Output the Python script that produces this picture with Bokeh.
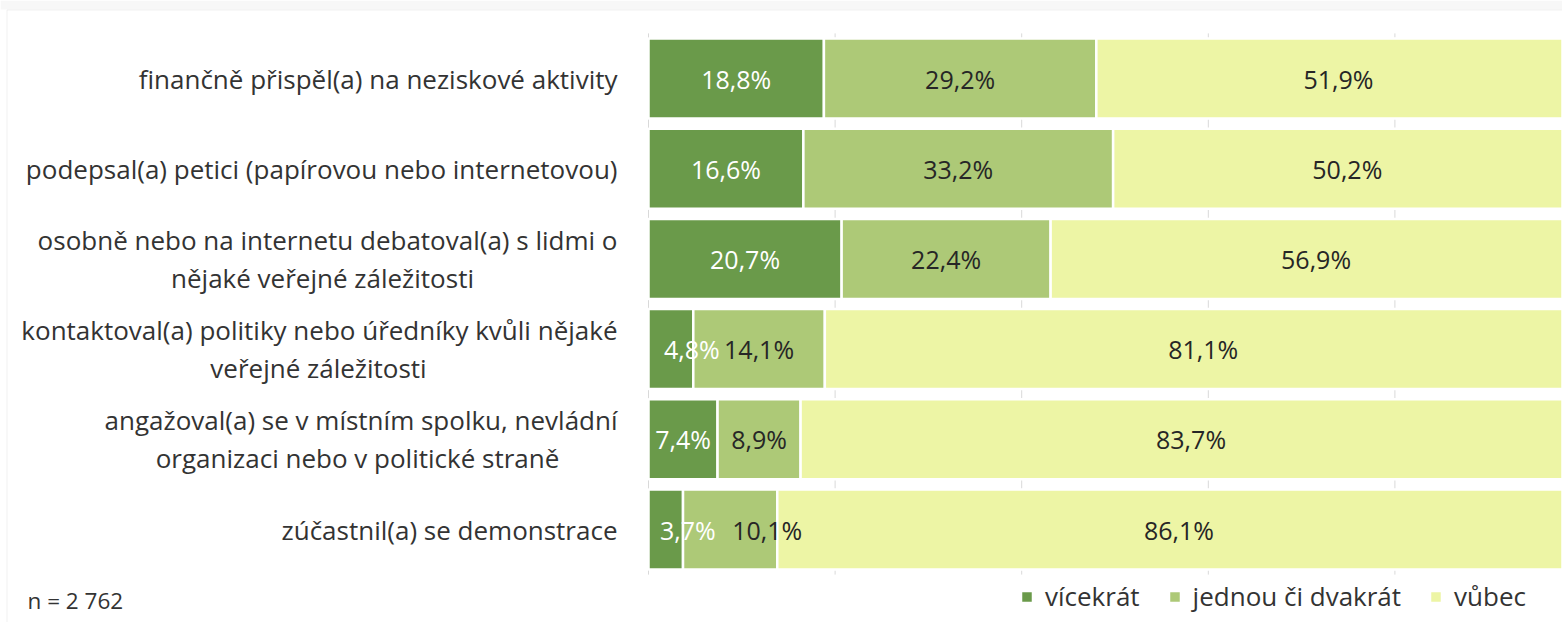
from bokeh.plotting import figure
from bokeh.models import (ColumnDataSource, Label, Range1d, BoxAnnotation)
from bokeh.embed import file_html
from bokeh.resources import INLINE
from bokeh.core.properties import value

# ---------------- data ----------------
categories = [
    "finančně přispěl(a) na neziskové aktivity",
    "podepsal(a) petici (papírovou nebo internetovou)",
    "osobně nebo na internetu debatoval(a) s lidmi o nějaké veřejné záležitosti",
    "kontaktoval(a) politiky nebo úředníky kvůli nějaké veřejné záležitosti",
    "angažoval(a) se v místním spolku, nevládní organizaci nebo v politické straně",
    "zúčastnil(a) se demonstrace",
]
category_lines = [
    ["finančně přispěl(a) na neziskové aktivity"],
    ["podepsal(a) petici (papírovou nebo internetovou)"],
    ["osobně nebo na internetu debatoval(a) s lidmi o", "nějaké veřejné záležitosti"],
    ["kontaktoval(a) politiky nebo úředníky kvůli nějaké", "veřejné záležitosti"],
    ["angažoval(a) se v místním spolku, nevládní", "organizaci nebo v politické straně"],
    ["zúčastnil(a) se demonstrace"],
]
vicekrat = [18.8, 16.6, 20.7, 4.8, 7.4, 3.7]
jednou = [29.2, 33.2, 22.4, 14.1, 8.9, 10.1]
vubec = [51.9, 50.2, 56.9, 81.1, 83.7, 86.1]
series_keys = ["vicekrat", "jednou", "vubec"]
series_names = ["vícekrát", "jednou či dvakrát", "vůbec"]
sample_note = "n = 2 762"
grid_ticks = [0, 20, 40, 60, 80, 100]

# ---------------- styles / layout ----------------
colors = ["#6A9A4A", "#ADC977", "#EDF5A5"]
label_colors = ["#FFFFFF", "#262626", "#262626"]
FONT_NAME = "Open Sans"
FONT = value(FONT_NAME)
TEXT_COLOR = "#333333"
GRID_COLOR = "#D9D9D9"
CAT_SIZE = "26px"
VAL_SIZE = "25px"
label_nudge = {(3, 0): 21, (5, 0): 22, (5, 1): 37}      # px nudges of crowded labels
second_line_center = {2: -326, 3: -330, 4: -291}        # px from axis
CAT_GAP = 31                                            # px between labels and axis
LINE_DY = 19

W, H = 1562, 622
AXIS_PX, FULL_PX = 648, 933          # axis position and px length of 100 %
ROW_PX, TOP_ROW_PX = 90.2, 78        # row pitch and centre of first row
n_rows = len(categories)
bottom_row_px = TOP_ROW_PX + (n_rows - 1) * ROW_PX
x_lo = -AXIS_PX / FULL_PX * 100
x_hi = (W - AXIS_PX) / FULL_PX * 100
y_hi = bottom_row_px / ROW_PX
y_lo = (bottom_row_px - H) / ROW_PX

p = figure(width=W, height=H, x_range=Range1d(x_lo, x_hi), y_range=Range1d(y_lo, y_hi),
           x_axis_location=None, y_axis_location=None,
           output_backend="svg", toolbar_location=None,
           min_border_left=0, min_border_right=0, min_border_top=0, min_border_bottom=0)
p.outline_line_color = None
p.background_fill_color = "white"
p.border_fill_color = "white"
p.xgrid.grid_line_color = None
p.ygrid.grid_line_color = None

rows = [n_rows - 1 - i for i in range(n_rows)]

# chart frame (light box) and faint strip above it
p.add_layout(BoxAnnotation(left=0, right=W, top=H, bottom=H - 9,
                           left_units="screen", right_units="screen",
                           top_units="screen", bottom_units="screen",
                           fill_color="#F7F7F7", fill_alpha=1, line_color=None))
p.add_layout(BoxAnnotation(left=6.5, right=W + 50, top=H - 9.5, bottom=-50,
                           left_units="screen", right_units="screen",
                           top_units="screen", bottom_units="screen",
                           fill_alpha=0, line_color="#D0D0D0", line_width=1))

# vertical grid (only across the bar area)
p.segment(x0=grid_ticks, x1=grid_ticks, y0=[-0.5] * len(grid_ticks),
          y1=[n_rows - 0.5] * len(grid_ticks), line_color=GRID_COLOR, line_width=1)

source = ColumnDataSource(dict(row=rows, cat=categories,
                               vicekrat=vicekrat, jednou=jednou, vubec=vubec))
p.hbar_stack(series_keys, y="row", height=0.887, color=colors,
             line_color="white", line_width=2.5, source=source,
             legend_label=series_names)

# data labels
xs, ys, texts, tcols, dxs = [], [], [], [], []
series = [vicekrat, jednou, vubec]
for i in range(n_rows):
    start = 0.0
    for j, s in enumerate(series):
        v = s[i]
        xs.append(start + v / 2)
        ys.append(rows[i])
        texts.append(f"{v:.1f}%".replace(".", ","))
        tcols.append(label_colors[j])
        dxs.append(label_nudge.get((i, j), 0))
        start += v
p.text(x="x", y="y", text="text", x_offset="dx", text_color="color",
       source=ColumnDataSource(dict(x=xs, y=ys, text=texts, color=tcols, dx=dxs)),
       text_align="center", text_baseline="middle",
       text_font=FONT, text_font_size=VAL_SIZE)

# category labels
r_y, r_t, r_dy = [], [], []
c_y, c_t, c_dx, c_dy = [], [], [], []
for i, lines in enumerate(category_lines):
    if len(lines) == 1:
        r_y.append(rows[i]); r_t.append(lines[0]); r_dy.append(0)
    else:
        r_y.append(rows[i]); r_t.append(lines[0]); r_dy.append(-LINE_DY)
        c_y.append(rows[i]); c_t.append(lines[1]); c_dx.append(second_line_center[i]); c_dy.append(LINE_DY)
p.text(x=[0] * len(r_y), y=r_y, text=r_t, x_offset=-CAT_GAP, y_offset=r_dy,
       text_align="right", text_baseline="middle", text_color=TEXT_COLOR,
       text_font=FONT, text_font_size=CAT_SIZE)
p.text(x=[0] * len(c_y), y=c_y, text=c_t, x_offset=c_dx, y_offset=c_dy,
       text_align="center", text_baseline="middle", text_color=TEXT_COLOR,
       text_font=FONT, text_font_size=CAT_SIZE)

p.add_layout(Label(x=27, y=22, x_units="screen", y_units="screen", text=sample_note,
                   text_baseline="middle", text_color=TEXT_COLOR,
                   text_font=FONT_NAME, text_font_size="22.5px"))

leg = p.legend[0]
leg.orientation = "horizontal"
leg.location = (1019, 8)
leg.padding = 0
leg.margin = 0
leg.spacing = 27
leg.label_standoff = 11
leg.glyph_width = 15
leg.glyph_height = 15
leg.label_text_font = FONT_NAME
leg.label_text_font_size = "26px"
leg.label_text_color = TEXT_COLOR
leg.border_line_color = None
leg.background_fill_alpha = 0

open("out.html", "w").write(file_html(p, INLINE))
